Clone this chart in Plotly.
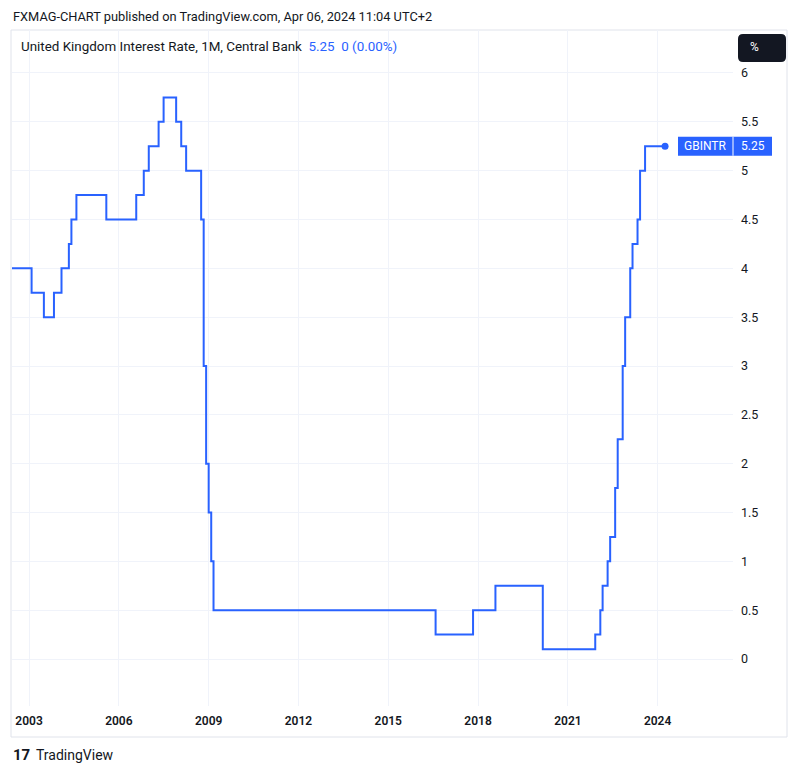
import plotly.graph_objects as go

# Rate change months (monthly bars, value holds until next change)
change_dates = [
    "2002-06-01", "2003-02-01", "2003-07-01", "2003-11-01", "2004-02-01",
    "2004-05-01", "2004-06-01", "2004-08-01", "2005-08-01", "2006-08-01",
    "2006-11-01", "2007-01-01", "2007-05-01", "2007-07-01", "2007-12-01",
    "2008-02-01", "2008-04-01", "2008-10-01", "2008-11-01", "2008-12-01",
    "2009-01-01", "2009-02-01", "2009-03-01", "2016-08-01", "2017-11-01",
    "2018-08-01", "2020-03-01", "2021-12-01", "2022-02-01", "2022-03-01",
    "2022-05-01", "2022-06-01", "2022-08-01", "2022-09-01", "2022-11-01",
    "2022-12-01", "2023-02-01", "2023-03-01", "2023-05-01", "2023-06-01",
    "2023-08-01", "2024-04-01",
]
rates = [
    4.00, 3.75, 3.50, 3.75, 4.00,
    4.25, 4.50, 4.75, 4.50, 4.75,
    5.00, 5.25, 5.50, 5.75, 5.50,
    5.25, 5.00, 4.50, 3.00, 2.00,
    1.50, 1.00, 0.50, 0.25, 0.50,
    0.75, 0.10, 0.25, 0.50, 0.75,
    1.00, 1.25, 1.75, 2.25, 3.00,
    3.50, 4.00, 4.25, 4.50, 5.00,
    5.25, 5.25,
]

x_tick_vals = ["2003-01-01", "2006-01-01", "2009-01-01", "2012-01-01",
               "2015-01-01", "2018-01-01", "2021-01-01", "2024-01-01"]
x_tick_text = ["2003", "2006", "2009", "2012", "2015", "2018", "2021", "2024"]
y_tick_vals = [0, 0.5, 1, 1.5, 2, 2.5, 3, 3.5, 4, 4.5, 5, 5.5, 6]
y_tick_text = ["0", "0.5", "1", "1.5", "2", "2.5", "3", "3.5", "4", "4.5", "5", "5.5", "6"]

symbol = "GBINTR"
last_value_text = "5.25"
title_text = "FXMAG-CHART published on TradingView.com, Apr 06, 2024 11:04 UTC+2"
legend_text = "United Kingdom Interest Rate, 1M, Central Bank"
legend_value = "5.25&nbsp;&nbsp;0 (0.00%)"

BLUE = "#2962FF"
TEXT = "#131722"
GRID = "#F0F3FA"
BORDER = "#E0E3EB"
FONT = "Roboto"

# page body has an 8px margin: work in page pixels and subtract it
OFF = 8
W, H = 800 - OFF, 774 - OFF
PL, PR, PT, PB = 12, 733, 30, 706          # plot area in page pixels
L, T = PL - OFF, PT - OFF
R, B = W - (PR - OFF), H - (PB - OFF)
PW, PH = PR - PL, PB - PT


def px(xp):
    return (xp - PL) / PW


def py(yp):
    return (PB - yp) / PH


fig = go.Figure()
fig.add_trace(go.Scatter(
    x=change_dates, y=rates, mode="lines", line=dict(color=BLUE, width=2, shape="hv"),
    hoverinfo="skip", showlegend=False,
))
fig.add_trace(go.Scatter(
    x=[change_dates[-1]], y=[rates[-1]], mode="markers",
    marker=dict(color=BLUE, size=7), hoverinfo="skip", showlegend=False,
))

shapes = []
# panel border
shapes.append(dict(type="rect", xref="paper", yref="paper",
                   x0=px(11), x1=px(787), y0=py(737), y1=py(30),
                   line=dict(color=BORDER, width=1), layer="below"))
# last value label
half = 9.5 / 97.67
shapes.append(dict(type="rect", xref="paper", yref="y",
                   x0=px(678), x1=px(772), y0=rates[-1] - half, y1=rates[-1] + half,
                   fillcolor=BLUE, line=dict(width=0)))
shapes.append(dict(type="line", xref="paper", yref="y",
                   x0=px(733), x1=px(733), y0=rates[-1] - half, y1=rates[-1] + half,
                   line=dict(color="white", width=1)))
# % button (rounded)
x0, x1, y0, y1 = px(738), px(786), py(62), py(34)
rx, ry = 5 / PW, 5 / PH
path = (f"M {x0+rx},{y0} L {x1-rx},{y0} Q {x1},{y0} {x1},{y0+ry} L {x1},{y1-ry} "
        f"Q {x1},{y1} {x1-rx},{y1} L {x0+rx},{y1} Q {x0},{y1} {x0},{y1-ry} "
        f"L {x0},{y0+ry} Q {x0},{y0} {x0+rx},{y0} Z")
shapes.append(dict(type="path", xref="paper", yref="paper", path=path,
                   fillcolor="#131722", line=dict(width=0)))

annotations = [
    dict(text=title_text, xref="paper", yref="paper", x=px(11), y=py(16),
         xanchor="left", yanchor="middle", showarrow=False,
         font=dict(family=FONT, size=12.8, color=TEXT)),
    dict(text=f"{legend_text}&nbsp;&nbsp;<span style='color:{BLUE}'>{legend_value}</span>",
         xref="paper", yref="paper", x=px(19), y=py(46),
         xanchor="left", yanchor="middle", showarrow=False,
         font=dict(family=FONT, size=13.4, color=TEXT)),
    dict(text=symbol, xref="paper", yref="y", x=px(705), y=rates[-1],
         xanchor="center", yanchor="middle", showarrow=False,
         font=dict(family=FONT, size=12, color="white")),
    dict(text=last_value_text, xref="paper", yref="y", x=px(752.5), y=rates[-1],
         xanchor="center", yanchor="middle", showarrow=False,
         font=dict(family=FONT, size=12, color="white")),
    dict(text="%", xref="paper", yref="paper", x=px(748), y=py(47),
         xanchor="left", yanchor="middle", showarrow=False,
         font=dict(family=FONT, size=12, color="white")),
    dict(text="<b>17</b>", xref="paper", yref="paper", x=px(11), y=py(755),
         xanchor="left", yanchor="middle", showarrow=False,
         font=dict(family=FONT, size=15, color=TEXT)),
    dict(text="TradingView", xref="paper", yref="paper", x=px(34), y=py(755),
         xanchor="left", yanchor="middle", showarrow=False,
         font=dict(family=FONT, size=14, color=TEXT)),
]

fig.update_layout(
    width=W, height=H, margin=dict(l=L, r=R, t=T, b=B),
    paper_bgcolor="white", plot_bgcolor="white",
    shapes=shapes, annotations=annotations, showlegend=False,
    xaxis=dict(
        type="date", range=["2002-06-07", "2026-07-09"],
        tickvals=x_tick_vals, ticktext=x_tick_text,
        showgrid=True, gridcolor=GRID, gridwidth=1, zeroline=False,
        showline=False, ticks="", ticklabelstandoff=6,
        tickfont=dict(family=FONT, size=12, color=TEXT, weight=600),
    ),
    yaxis=dict(
        side="right", range=[-0.481, 6.44],
        tickvals=y_tick_vals, ticktext=y_tick_text,
        showgrid=True, gridcolor=GRID, gridwidth=1, zeroline=False,
        showline=False, ticks="", ticklabelstandoff=7,
        tickfont=dict(family=FONT, size=12.5, color=TEXT),
    ),
)

fig.write_html("out.html")
